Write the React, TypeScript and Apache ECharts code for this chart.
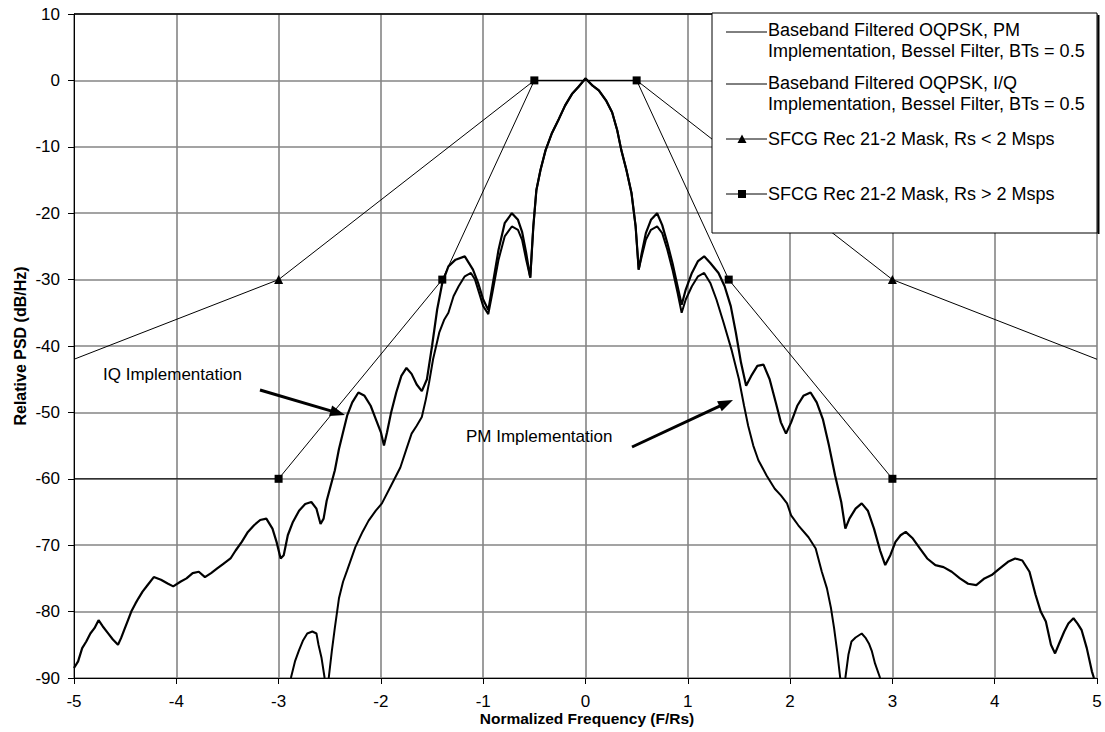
import React, { useEffect, useRef } from "react";
import * as echarts from "echarts";

// ---- Data ----
const xTickValues = [-5, -4, -3, -2, -1, 0, 1, 2, 3, 4, 5];

// Baseband Filtered OQPSK, I/Q implementation (wider, higher side lobes)
const iqFreq = [
  -5.0, -4.96, -4.92, -4.88, -4.84, -4.8, -4.76, -4.72, -4.67, -4.62, -4.57, -4.54, -4.51, -4.47, -4.44, -4.4,
  -4.37, -4.33, -4.28, -4.22, -4.15, -4.08, -4.03, -3.96, -3.9, -3.84, -3.78, -3.72, -3.66, -3.6, -3.54, -3.47,
  -3.42, -3.36, -3.3, -3.24, -3.18, -3.12, -3.06, -3.02, -2.98, -2.95, -2.91, -2.86, -2.8, -2.74, -2.68, -2.63,
  -2.59, -2.56, -2.53, -2.49, -2.45, -2.41, -2.37, -2.33, -2.28, -2.22, -2.16, -2.1, -2.05, -2.0, -1.97, -1.94,
  -1.9, -1.85, -1.8, -1.75, -1.7, -1.65, -1.6, -1.55, -1.5, -1.45, -1.4, -1.34, -1.27, -1.18, -1.1, -1.05,
  -1.0, -0.95, -0.91, -0.85, -0.79, -0.72, -0.66, -0.62, -0.58, -0.54, -0.51, -0.48, -0.44, -0.39, -0.33, -0.26,
  -0.2, -0.13, -0.07, 0.0, 0.07, 0.13, 0.2, 0.26, 0.31, 0.35, 0.4, 0.45, 0.49, 0.52, 0.55, 0.59,
  0.64, 0.7, 0.75, 0.8, 0.85, 0.9, 0.94, 0.98, 1.04, 1.1, 1.16, 1.22, 1.3, 1.36, 1.42, 1.47,
  1.52, 1.57, 1.62, 1.68, 1.74, 1.8, 1.86, 1.91, 1.96, 2.01, 2.07, 2.13, 2.2, 2.26, 2.32, 2.38,
  2.44, 2.5, 2.54, 2.58, 2.64, 2.7, 2.76, 2.82, 2.88, 2.93, 2.98, 3.03, 3.08, 3.13, 3.2, 3.27,
  3.34, 3.42, 3.5, 3.58, 3.66, 3.74, 3.82, 3.9, 3.97, 4.05, 4.13, 4.2, 4.27, 4.34, 4.4, 4.45,
  4.5, 4.55, 4.59, 4.63, 4.68, 4.72, 4.77, 4.81, 4.85, 4.9, 4.95, 4.97,
];
const iqPsd = [
  -88.5, -87.5, -85.5, -84.5, -83.3, -82.5, -81.3, -82.2, -83.2, -84.2, -85.0, -84.0, -82.8, -81.2, -80.0, -78.8,
  -78.0, -77.0, -76.0, -74.8, -75.2, -75.8, -76.2, -75.5, -75.0, -74.2, -74.0, -74.8, -74.2, -73.5, -72.8, -72.0,
  -70.8, -69.5, -68.0, -67.0, -66.2, -66.0, -67.5, -69.5, -72.0, -71.5, -68.5, -66.5, -64.8, -63.8, -63.5, -64.5,
  -66.8, -66.0, -63.3, -61.0, -58.7, -55.5, -53.0, -50.5, -48.5, -47.0, -47.5, -49.0, -51.0, -53.0, -55.0, -53.0,
  -50.0, -47.0, -44.5, -43.3, -44.2, -45.8, -46.8, -45.0, -40.0, -34.5, -30.5, -28.0, -27.0, -26.5, -28.5, -30.5,
  -33.0, -34.6, -31.0, -25.5, -21.5, -20.0, -21.0, -22.8, -26.0, -29.7, -22.0, -16.5, -13.5, -10.5, -8.0, -5.8,
  -3.8, -2.0, -1.0, 0.3, -0.8, -1.5, -3.0, -4.8, -7.5, -10.5, -13.5, -17.0, -22.0, -28.5, -26.0, -23.0,
  -21.0, -20.0, -21.8, -24.5, -27.5, -31.0, -33.8, -31.5, -29.0, -27.2, -26.5, -27.5, -29.0, -31.0, -34.0, -38.0,
  -42.5, -46.0, -44.5, -43.0, -42.8, -45.0, -48.5, -51.5, -53.2, -51.5, -49.0, -47.5, -47.0, -48.5, -51.0, -55.0,
  -59.5, -63.5, -67.5, -66.0, -64.5, -63.7, -64.8, -67.5, -70.8, -73.0, -71.5, -69.5, -68.5, -68.0, -69.0, -70.5,
  -72.0, -73.0, -73.3, -74.0, -75.0, -75.8, -76.0, -75.0, -74.5, -73.5, -72.5, -72.0, -72.3, -74.0, -77.5, -80.0,
  -81.5, -85.0, -86.3, -84.8, -83.0, -81.8, -81.0, -81.8, -82.8, -85.5, -89.0, -90.0,
];

// Baseband Filtered OQPSK, PM implementation (steeper roll-off); null = gap
const pmFreq = [
  -2.88, -2.84, -2.8, -2.76, -2.72, -2.67, -2.63, -2.61, -2.58, -2.55, -2.53, -2.51, -2.48, -2.45, -2.41, -2.37,
  -2.33, -2.25, -2.18, -2.12, -2.05, -1.99, -1.9, -1.81, -1.75, -1.7, -1.65, -1.6, -1.56, -1.53, -1.49, -1.43,
  -1.38, -1.34, -1.29, -1.24, -1.18, -1.12, -1.08, -1.04, -1.0, -0.95, -0.91, -0.85, -0.79, -0.72, -0.66, -0.62,
  -0.58, -0.54, -0.51, -0.48, -0.44, -0.39, -0.33, -0.26, -0.2, -0.13, -0.07, 0.0, 0.07, 0.13, 0.2, 0.26,
  0.31, 0.35, 0.4, 0.45, 0.49, 0.52, 0.55, 0.59, 0.64, 0.7, 0.75, 0.8, 0.85, 0.9, 0.94, 0.98,
  1.04, 1.1, 1.16, 1.22, 1.28, 1.35, 1.43, 1.5, 1.55, 1.59, 1.64, 1.69, 1.77, 1.85, 1.91, 1.97,
  2.01, 2.08, 2.18, 2.25, 2.31, 2.36, 2.4, 2.43, 2.46, 2.49, 2.52, 2.54, 2.57, 2.6, 2.64, 2.7,
  2.74, 2.77, 2.8, 2.83, 2.88,
];
const pmPsd = [
  -90.0, -87.5, -85.8, -84.3, -83.3, -83.0, -83.3, -85.0, -87.0, -90.0, null, -90.0, -86.0, -82.4, -78.0, -75.5,
  -73.8, -70.3, -68.0, -66.3, -64.8, -63.7, -61.0, -58.3, -55.5, -53.2, -52.0, -50.7, -48.0, -45.6, -42.0, -38.0,
  -36.0, -35.0, -32.5, -31.0, -29.5, -29.0, -30.0, -32.0, -34.0, -35.2, -32.0, -27.0, -23.5, -22.0, -22.5, -24.0,
  -27.0, -29.7, -22.0, -16.5, -13.5, -10.5, -8.0, -5.8, -3.8, -2.0, -1.0, 0.3, -0.8, -1.5, -3.0, -4.8,
  -7.5, -10.5, -13.5, -17.0, -22.0, -28.5, -26.5, -24.0, -22.5, -22.0, -23.0, -25.5, -28.5, -32.0, -35.0, -33.0,
  -31.0, -29.5, -29.0, -30.5, -33.0, -36.5, -40.7, -45.0, -49.0, -52.0, -55.0, -57.2, -59.5, -61.5, -62.5, -63.7,
  -65.5, -67.0, -68.8, -70.5, -74.0, -76.5, -79.5, -82.5, -86.0, -90.0, null, -90.0, -86.5, -84.5, -83.9, -83.3,
  -84.0, -84.8, -86.0, -87.8, -90.0,
];

// SFCG Rec 21-2 masks
const maskLowFreq = [-5, -3, -0.5, 0.5, 3, 5];
const maskLowPsd = [-42, -30, 0, 0, -30, -42];
const maskLowMarked = [false, true, false, false, true, false];
const maskHighFreq = [-5, -3, -1.4, -0.5, 0.5, 1.4, 3, 5];
const maskHighPsd = [-60, -60, -30, 0, 0, -30, -60, -60];
const maskHighMarked = [false, true, true, true, true, true, true, false];

const seriesNames = [
  "Baseband Filtered OQPSK, PM Implementation, Bessel Filter, BTs = 0.5",
  "Baseband Filtered OQPSK, I/Q Implementation, Bessel Filter, BTs = 0.5",
  "SFCG Rec 21-2 Mask, Rs < 2 Msps",
  "SFCG Rec 21-2 Mask, Rs > 2 Msps",
];
const legendLines = [
  ["Baseband Filtered OQPSK, PM", "Implementation, Bessel Filter, BTs = 0.5"],
  ["Baseband Filtered OQPSK, I/Q", "Implementation, Bessel Filter, BTs = 0.5"],
  ["SFCG Rec 21-2 Mask, Rs < 2 Msps"],
  ["SFCG Rec 21-2 Mask, Rs > 2 Msps"],
];
const xAxisTitle = "Normalized Frequency (F/Rs)";
const yAxisTitle = "Relative PSD (dB/Hz)";
const iqNote = "IQ Implementation";
const pmNote = "PM Implementation";

const FONT = '"Liberation Sans", Arial, sans-serif';

function zip(xs: number[], ys: (number | null)[]) {
  return xs.map((x, i) => [x, ys[i] === null ? "-" : ys[i]]);
}

function arrow(x1: number, y1: number, x2: number, y2: number) {
  const dx = x2 - x1;
  const dy = y2 - y1;
  const len = Math.sqrt(dx * dx + dy * dy);
  const ux = dx / len;
  const uy = dy / len;
  const hl = 15;
  const hw = 5.5;
  const bx = x2 - ux * hl;
  const by = y2 - uy * hl;
  return [
    {
      type: "line",
      z: 110,
      shape: { x1, y1, x2: bx + ux * 2, y2: by + uy * 2 },
      style: { stroke: "#000", lineWidth: 3 },
    },
    {
      type: "polygon",
      z: 110,
      shape: {
        points: [
          [x2, y2],
          [bx - uy * hw, by + ux * hw],
          [bx + uy * hw, by - ux * hw],
        ],
      },
      style: { fill: "#000" },
    },
  ];
}

export default function App() {
  const ref = useRef<HTMLDivElement>(null);

  useEffect(() => {
    if (!ref.current) return;
    const chart = echarts.init(ref.current, undefined, { renderer: "svg" });

    const legendX0 = 726;
    const legendX1 = 767;
    const legendTextX = 768;
    const sampleY = [32, 84, 139, 194];
    const textY = [[30, 51], [83, 104], [139], [194]];

    const legendGraphics: any[] = [
      {
        type: "rect",
        z: 100,
        shape: { x: 712, y: 13, width: 385, height: 220 },
        style: { fill: "#fff", stroke: "#000", lineWidth: 1 },
      },
      {
        type: "line",
        z: 101,
        shape: { x1: 1098.5, y1: 15, x2: 1098.5, y2: 234 },
        style: { stroke: "#000", lineWidth: 2 },
      },
    ];
    sampleY.forEach((y, i) => {
      legendGraphics.push({
        type: "line",
        z: 101,
        shape: { x1: legendX0, y1: y, x2: legendX1, y2: y },
        style: { stroke: "#000", lineWidth: 1 },
      });
      legendLines[i].forEach((t, j) => {
        legendGraphics.push({
          type: "text",
          z: 101,
          x: legendTextX,
          y: textY[i][j],
          style: {
            text: t,
            font: `18px ${FONT}`,
            fill: "#000",
            textAlign: "left",
            textVerticalAlign: "middle",
          },
        });
      });
    });
    legendGraphics.push({
      type: "polygon",
      z: 102,
      shape: { points: [[742, 134.5], [746.5, 143], [737.5, 143]] },
      style: { fill: "#000" },
    });
    legendGraphics.push({
      type: "rect",
      z: 102,
      shape: { x: 738, y: 190, width: 8, height: 8 },
      style: { fill: "#000" },
    });

    const option: any = {
      animation: false,
      backgroundColor: "#fff",
      grid: { left: 74, top: 14, width: 1023, height: 664, containLabel: false },
      xAxis: {
        type: "value",
        min: -5,
        max: 5,
        interval: 1,
        axisLine: { show: true, onZero: false, lineStyle: { color: "#000", width: 1 } },
        axisTick: { show: true, length: 6, lineStyle: { color: "#000" } },
        axisLabel: {
          color: "#000",
          fontSize: 17,
          fontFamily: FONT,
          margin: 15,
          customValues: xTickValues,
        },
        splitLine: { show: true, lineStyle: { color: "#858585", width: 1.6 } },
      },
      yAxis: {
        type: "value",
        min: -90,
        max: 10,
        interval: 10,
        axisLine: { show: true, onZero: false, lineStyle: { color: "#000", width: 1 } },
        axisTick: { show: true, length: 6, lineStyle: { color: "#000" } },
        axisLabel: { color: "#000", fontSize: 17, fontFamily: FONT, margin: 14 },
        splitLine: { show: true, lineStyle: { color: "#858585", width: 1.6 } },
      },
      series: [
        {
          name: seriesNames[0],
          type: "line",
          data: zip(pmFreq, pmPsd),
          showSymbol: false,
          symbol: "none",
          connectNulls: false,
          clip: true,
          lineStyle: { color: "#000", width: 2 },
          z: 3,
        },
        {
          name: seriesNames[1],
          type: "line",
          data: zip(iqFreq, iqPsd),
          showSymbol: false,
          symbol: "none",
          clip: true,
          lineStyle: { color: "#000", width: 2.2 },
          z: 3,
        },
        {
          name: seriesNames[2],
          type: "line",
          data: maskLowFreq.map((x, i) => ({
            value: [x, maskLowPsd[i]],
            symbol: maskLowMarked[i] ? "triangle" : "none",
          })),
          symbol: "triangle",
          symbolSize: 9,
          clip: true,
          itemStyle: { color: "#000" },
          lineStyle: { color: "#000", width: 1 },
          z: 4,
        },
        {
          name: seriesNames[3],
          type: "line",
          data: maskHighFreq.map((x, i) => ({
            value: [x, maskHighPsd[i]],
            symbol: maskHighMarked[i] ? "rect" : "none",
          })),
          symbol: "rect",
          symbolSize: 8,
          clip: true,
          itemStyle: { color: "#000" },
          lineStyle: { color: "#000", width: 1 },
          z: 5,
        },
      ],
      graphic: [
        {
          type: "line",
          z: 50,
          shape: { x1: 74, y1: 14, x2: 1097, y2: 14 },
          style: { stroke: "#000", lineWidth: 1.5 },
        },
        {
          type: "text",
          z: 50,
          x: 587,
          y: 718,
          style: {
            text: xAxisTitle,
            font: `bold 15.5px ${FONT}`,
            fill: "#000",
            textAlign: "center",
            textVerticalAlign: "middle",
          },
        },
        {
          type: "text",
          z: 50,
          x: 20,
          y: 346,
          rotation: Math.PI / 2,
          style: {
            text: yAxisTitle,
            font: `bold 16px ${FONT}`,
            fill: "#000",
            textAlign: "center",
            textVerticalAlign: "middle",
          },
        },
        {
          type: "text",
          z: 110,
          x: 103,
          y: 374,
          style: {
            text: iqNote,
            font: `17px ${FONT}`,
            fill: "#000",
            textAlign: "left",
            textVerticalAlign: "middle",
          },
        },
        {
          type: "text",
          z: 110,
          x: 466,
          y: 436,
          style: {
            text: pmNote,
            font: `17px ${FONT}`,
            fill: "#000",
            textAlign: "left",
            textVerticalAlign: "middle",
          },
        },
        ...arrow(260, 390, 345, 415),
        ...arrow(632, 447, 733, 400),
        ...legendGraphics,
      ],
    };

    chart.setOption(option);
    return () => {
      chart.dispose();
    };
  }, []);

  return (
    <div
      ref={ref}
      style={{ position: "absolute", left: 0, top: 0, width: 1105, height: 732, background: "#fff" }}
    />
  );
}
